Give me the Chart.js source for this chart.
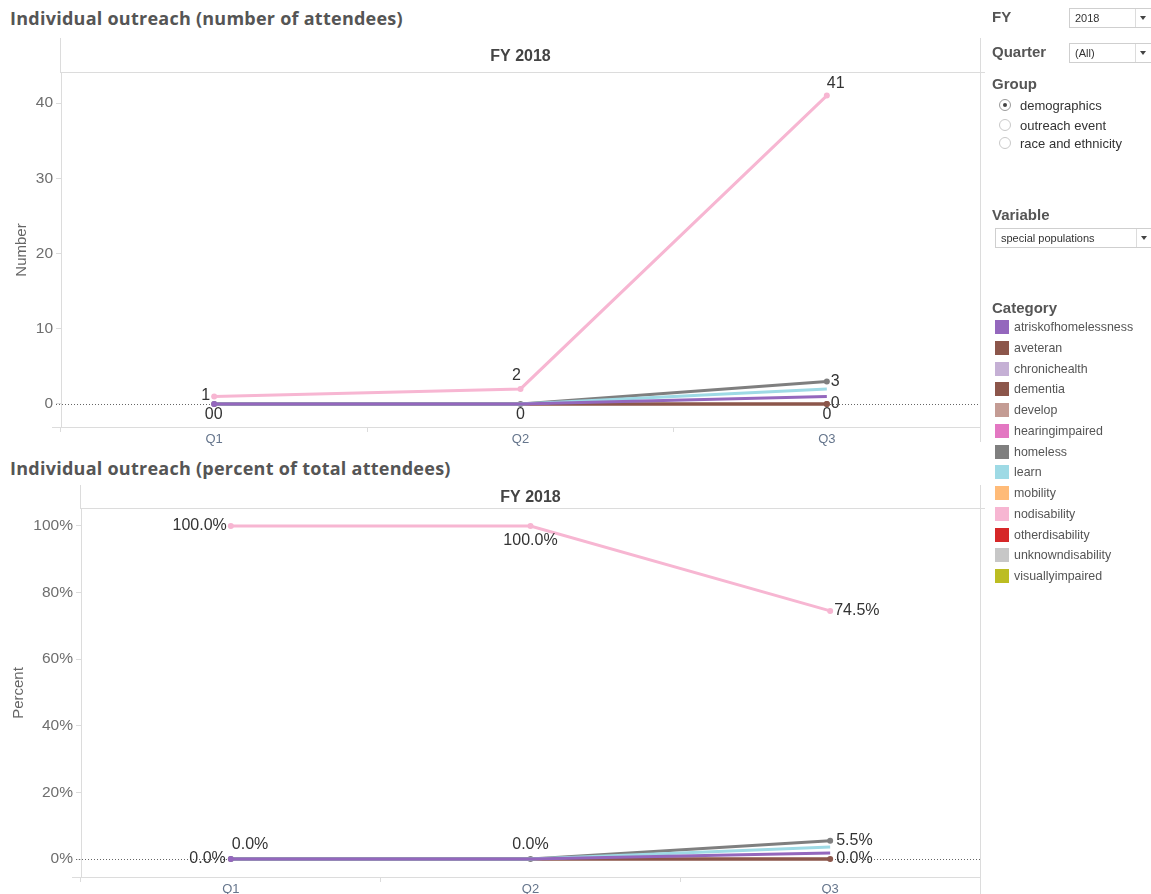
<!DOCTYPE html>
<html>
<head>
<meta charset="utf-8">
<script src="https://cdn.jsdelivr.net/npm/chart.js@4.4.1/dist/chart.umd.min.js"></script>
<style>
html,body{margin:0;padding:0;background:#fff;}
body{position:relative;width:1151px;height:894px;overflow:hidden;font-family:Arial,"Liberation Sans",sans-serif;}
.ctitle{position:absolute;left:10px;font-family:"Open Sans",sans-serif;font-weight:700;font-size:18px;letter-spacing:0.25px;color:#555;white-space:nowrap;line-height:20px;}
canvas{position:absolute;left:0;}
#panel{position:absolute;left:981px;top:0;width:170px;height:894px;}
.plabel{position:absolute;left:11px;font-weight:bold;font-size:15px;color:#555;line-height:18px;}
.dd{position:absolute;background:#fff;border:1px solid #cfcfcf;height:20px;font-size:11px;color:#333;line-height:18px;box-sizing:border-box;}
.dd .t{position:absolute;left:5px;top:0;}
.dd .sep{position:absolute;top:0;bottom:0;width:1px;background:#dcdcdc;}
.dd .arr{position:absolute;top:7px;width:0;height:0;border-left:3.5px solid transparent;border-right:3.5px solid transparent;border-top:4px solid #444;}
.radio{position:absolute;left:39px;font-size:13px;color:#333;line-height:16px;white-space:nowrap;}
.radio .c{position:absolute;left:-21px;top:1px;width:12px;height:12px;border:1px solid #c8c8c8;border-radius:50%;box-sizing:border-box;background:#fff;}
.radio .c.on{border-color:#9a9a9a;}
.radio .c.on::after{content:"";position:absolute;left:3px;top:3px;width:4px;height:4px;border-radius:50%;background:#444;}
.leg{position:absolute;left:14px;font-size:12.4px;color:#555;line-height:14px;white-space:nowrap;}
.leg .sw{position:absolute;left:0;top:0;width:14px;height:14px;}
.leg .tx{position:absolute;left:19px;top:0;}
</style>
</head>
<body>
<div class="ctitle" style="top:8px;">Individual outreach (number of attendees)</div>
<div class="ctitle" style="top:458px;">Individual outreach (percent of total attendees)</div>
<canvas id="countChart" width="990" height="450" style="top:0;"></canvas>
<canvas id="pctChart" width="990" height="439" style="top:455px;"></canvas>
<div id="panel"></div>
<script>
// ---------------- data ----------------
const quarters = ['Q1', 'Q2', 'Q3'];
const fyHeader = 'FY 2018';
const categories = ['atriskofhomelessness','aveteran','chronichealth','dementia','develop','hearingimpaired','homeless','learn','mobility','nodisability','otherdisability','unknowndisability','visuallyimpaired'];
const categoryColors = ['#9467bd','#8c564b','#c5b0d5','#8c564b','#c49c94','#e377c2','#7f7f7f','#9edae5','#ffbb78','#f7b6d2','#d62728','#c7c7c7','#bcbd22'];

// number of attendees
const nNoDisability = [1, 2, 41];
const nAtRisk = [0, 0, 1];
const nLearn = [0, 0, 2];
const nHomeless = [0, 0, 3];
const nVeteran = [0, 0, 0];
const nDementia = [0, 0, 0];

// percent of total attendees
const pNoDisability = [100, 100, 74.5];
const pAtRisk = [0, 0, 1.8];
const pLearn = [0, 0, 3.6];
const pHomeless = [0, 0, 5.5];
const pVeteran = [0, 0, 0];
const pDementia = [0, 0, 0];

const numberTicks = [0, 10, 20, 30, 40];
const percentTicks = [0, 20, 40, 60, 80, 100];

// filter panel texts
const fyOptions = ['2018'];
const quarterOptions = ['(All)'];
const groupOptions = ['demographics', 'outreach event', 'race and ethnicity'];
const variableOptions = ['special populations'];

// ---------------- label placement (style) ----------------
const labelSpecs = {
  countChart: [
    {series:'nodisability', i:0, align:'right', dx:-4, dy:-1},
    {series:'homeless', i:0, align:'center', dx:-5, dy:11},
    {series:'atriskofhomelessness', i:0, align:'center', dx:4, dy:11},
    {series:'nodisability', i:1, align:'center', dx:-4, dy:-13},
    {series:'homeless', i:1, align:'center', dx:0, dy:11},
    {series:'nodisability', i:2, align:'left', dx:0, dy:-12},
    {series:'homeless', i:2, align:'left', dx:4, dy:0},
    {series:'aveteran', i:2, align:'left', dx:4, dy:0},
    {series:'dementia', i:2, align:'center', dx:0, dy:11}
  ],
  pctChart: [
    {series:'nodisability', i:0, align:'right', dx:-4, dy:0},
    {series:'homeless', i:0, align:'right', dx:-5, dy:0},
    {series:'atriskofhomelessness', i:0, align:'left', dx:1, dy:-14},
    {series:'nodisability', i:1, align:'center', dx:0, dy:15},
    {series:'homeless', i:1, align:'center', dx:0, dy:-14},
    {series:'nodisability', i:2, align:'left', dx:4, dy:0},
    {series:'homeless', i:2, align:'left', dx:6, dy:0},
    {series:'aveteran', i:2, align:'left', dx:6, dy:0}
  ]
};

Chart.defaults.font.family = 'Arial, "Liberation Sans", sans-serif';

function colorOf(name) { return categoryColors[categories.indexOf(name)]; }

function buildDatasets(series, specs) {
  return series.map(([name, data]) => {
    const c = colorOf(name);
    const labelled = new Set(specs.filter(s => s.series === name).map(s => s.i));
    return {
      label: name, data: data,
      borderColor: c, backgroundColor: c,
      borderWidth: 3, tension: 0,
      pointRadius: data.map((_, i) => labelled.has(i) ? 3 : 0),
      pointBorderWidth: 0, pointHoverRadius: 0, pointHitRadius: 0
    };
  });
}

const headerPlugin = {
  id: 'fyHeader',
  beforeDatasetsDraw(chart) {
    const {ctx, chartArea: {left, right}} = chart;
    const y0 = Math.round(chart.scales.y.getPixelForValue(0)) + 0.5;
    ctx.save();
    ctx.strokeStyle = '#666';
    ctx.lineWidth = 1;
    ctx.setLineDash([1, 2]);
    ctx.beginPath(); ctx.moveTo(left - 5, y0); ctx.lineTo(right, y0); ctx.stroke();
    ctx.restore();
  },
  afterDraw(chart, args, opts) {
    const {ctx, chartArea: {left, right, top, bottom}} = chart;
    const hTop = opts.headerTop;
    ctx.save();
    ctx.strokeStyle = '#dcdcdc';
    ctx.lineWidth = 1;
    ctx.beginPath();
    ctx.moveTo(left, top - 0.5); ctx.lineTo(right + 5, top - 0.5);
    ctx.moveTo(left - 0.5, hTop); ctx.lineTo(left - 0.5, top);
    ctx.moveTo(right + 0.5, hTop); ctx.lineTo(right + 0.5, bottom + opts.extend);
    ctx.moveTo(left - 9, bottom + 0.5); ctx.lineTo(left, bottom + 0.5);
    ctx.stroke();
    ctx.fillStyle = '#444';
    ctx.font = 'bold 16px Arial, "Liberation Sans", sans-serif';
    ctx.textAlign = 'center';
    ctx.textBaseline = 'middle';
    ctx.fillText(opts.text, (left + right) / 2, (hTop + top) / 2 + 1);
    ctx.restore();
  }
};

const labelPlugin = {
  id: 'pointLabels',
  afterDatasetsDraw(chart, args, opts) {
    const specs = labelSpecs[chart.canvas.id];
    const pct = opts.percent;
    const ctx = chart.ctx;
    ctx.save();
    ctx.font = '16px Arial, "Liberation Sans", sans-serif';
    ctx.fillStyle = '#333';
    ctx.textBaseline = 'middle';
    specs.forEach(s => {
      const di = chart.data.datasets.findIndex(d => d.label === s.series);
      if (di < 0) return;
      const pt = chart.getDatasetMeta(di).data[s.i];
      const v = chart.data.datasets[di].data[s.i];
      const txt = pct ? v.toFixed(1) + '%' : String(v);
      ctx.textAlign = s.align;
      ctx.fillText(txt, pt.x + s.dx, pt.y + s.dy);
    });
    ctx.restore();
  }
};

function makeChart(id, datasets, o) {
  return new Chart(document.getElementById(id), {
    type: 'line',
    data: { labels: quarters, datasets: datasets },
    options: {
      responsive: false, animation: false, devicePixelRatio: 1,
      events: [],
      layout: { padding: { top: o.padTop, right: 10, left: 0, bottom: 0 } },
      plugins: {
        legend: { display: false },
        tooltip: { enabled: false },
        fyHeader: { headerTop: o.headerTop, text: fyHeader, extend: o.extend },
        pointLabels: { percent: o.percent }
      },
      scales: {
        x: {
          type: 'category', offset: true,
          afterFit: s => { s.height = o.xHeight; },
          grid: { offset: true, drawOnChartArea: false, drawTicks: true, tickLength: 5, color: '#dcdcdc' },
          border: { color: '#dcdcdc' },
          ticks: { font: { size: 13 }, color: '#65758c', padding: 0, maxRotation: 0, autoSkip: false }
        },
        y: {
          min: o.min, max: o.max,
          afterBuildTicks: s => { s.ticks = o.ticks.map(v => ({ value: v })); },
          afterFit: s => { s.width = o.yWidth; },
          grid: { drawOnChartArea: false, drawTicks: true, tickLength: 5, color: '#dcdcdc' },
          border: { color: '#dcdcdc' },
          ticks: { font: { size: 15.5 }, color: '#6e6e6e', padding: 3, callback: v => o.percent ? v + '%' : String(v) },
          title: { display: true, text: o.title, color: '#666', font: { size: 15 }, padding: { top: o.titlePad, bottom: 0 } }
        }
      }
    },
    plugins: [headerPlugin, labelPlugin]
  });
}

const countSeries = [
  ['nodisability', nNoDisability],
  ['atriskofhomelessness', nAtRisk],
  ['learn', nLearn],
  ['homeless', nHomeless],
  ['aveteran', nVeteran],
  ['dementia', nDementia]
];
const pctSeries = [
  ['nodisability', pNoDisability],
  ['atriskofhomelessness', pAtRisk],
  ['learn', pLearn],
  ['homeless', pHomeless],
  ['aveteran', pVeteran],
  ['dementia', pDementia]
];

makeChart('countChart', buildDatasets(countSeries, labelSpecs.countChart), {
  padTop: 73, headerTop: 38, extend: 15, xHeight: 23, yWidth: 61,
  min: -3.06, max: 44, ticks: numberTicks, percent: false, title: 'Number', titlePad: 13
});
makeChart('pctChart', buildDatasets(pctSeries, labelSpecs.pctChart), {
  padTop: 54, headerTop: 30, extend: 20, xHeight: 17, yWidth: 81,
  min: -5.4, max: 105.1, ticks: percentTicks, percent: true, title: 'Percent', titlePad: 10
});

// ---------------- filter panel ----------------
const panel = document.getElementById('panel');
function add(html) { panel.insertAdjacentHTML('beforeend', html); }
function dropdown(left, top, width, text, sepLeft) {
  add('<div class="dd" style="left:' + left + 'px;top:' + top + 'px;width:' + width + 'px;"><span class="t">' + text +
      '</span><span class="sep" style="left:' + sepLeft + 'px"></span><span class="arr" style="left:' + (sepLeft + 5) + 'px"></span></div>');
}
add('<div class="plabel" style="top:8px;">FY</div>');
dropdown(88, 8, 90, fyOptions[0], 65);
add('<div class="plabel" style="top:43px;">Quarter</div>');
dropdown(88, 43, 90, quarterOptions[0], 65);
add('<div class="plabel" style="top:75px;">Group</div>');
[98, 118, 136].forEach((t, i) => {
  add('<div class="radio" style="top:' + t + 'px;"><span class="c' + (i === 0 ? ' on' : '') + '"></span>' + groupOptions[i] + '</div>');
});
add('<div class="plabel" style="top:206px;">Variable</div>');
dropdown(14, 228, 160, variableOptions[0], 140);
add('<div class="plabel" style="top:299px;">Category</div>');
categories.forEach((c, i) => {
  const top = 320 + Math.round(i * 20.75);
  add('<div class="leg" style="top:' + top + 'px;"><span class="sw" style="background:' + categoryColors[i] + '"></span><span class="tx">' + c + '</span></div>');
});
</script>
</body>
</html>
